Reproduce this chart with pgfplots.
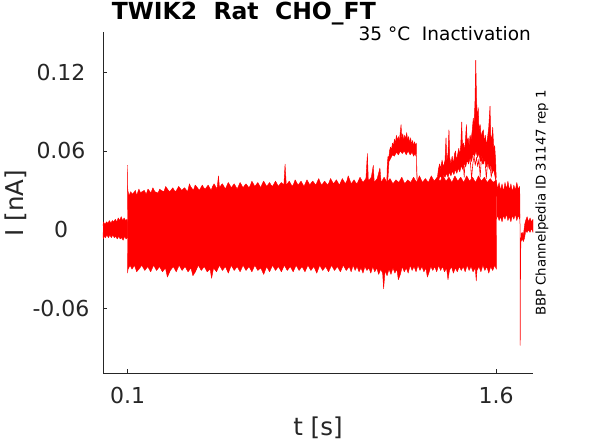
\documentclass[border=0pt]{standalone}
\usepackage{pgfplots}
\pgfplotsset{compat=1.18}
\usepackage{fontspec}
\setmainfont{DejaVu Sans}
\definecolor{txt}{rgb}{0.15,0.15,0.15}
\begin{document}
\begin{tikzpicture}[x=1pt,y=1pt]
\useasboundingbox (0,0) rectangle (589,442);
\begin{axis}[
  at={(103pt,69pt)}, anchor=south west,
  width=430pt, height=341pt, scale only axis,
  xmin=0, xmax=1.75, ymin=-0.109, ymax=0.1505,
  axis lines*=left,
  axis line style={txt, line width=0.6pt},
  xtick={0.1,1.6}, xticklabels={0.1,1.6},
  ytick={-0.06,0,0.06,0.12}, yticklabels={-0.06,0,0.06,0.12},
  tick align=inside, major tick length=4pt,
  tick style={txt, line width=0.6pt},
  ticklabel style={font=\fontsize{22}{26}\selectfont, text=txt},
  xticklabel style={anchor=base, yshift=-30pt},
  yticklabel style={anchor=center, xshift=-42pt},
  clip=false,
]
% pre-pulse band
\addplot[draw=red, fill=red, line width=0.4pt, line join=round] coordinates {
(0.000,0.003) (0.002,0.006) (0.008,0.004) (0.014,0.006) (0.020,0.005) (0.026,0.007)
(0.032,0.005) (0.038,0.007) (0.044,0.006) (0.050,0.008) (0.056,0.006) (0.062,0.009)
(0.068,0.007) (0.074,0.010) (0.080,0.007) (0.086,0.009) (0.092,0.007) (0.098,0.008) (0.100,0.006)
(0.100,-0.006) (0.094,-0.007) (0.088,-0.005) (0.082,-0.008) (0.076,-0.006) (0.070,-0.007)
(0.064,-0.005) (0.058,-0.007) (0.052,-0.005) (0.046,-0.006) (0.040,-0.004) (0.034,-0.006)
(0.028,-0.004) (0.022,-0.006) (0.016,-0.004) (0.010,-0.006) (0.004,-0.005) (0.001,-0.007) (0.000,-0.002)
};
% main band
\addplot[draw=red, fill=red, line width=0.4pt, line join=round] coordinates {
(0.100,-0.033) (0.0995,0.049) (0.101,0.030)
(0.106,0.026) (0.113,0.029) (0.119,0.027) (0.124,0.028) (0.132,0.030) (0.137,0.026) (0.146,0.031)
(0.153,0.028) (0.159,0.029) (0.168,0.030) (0.176,0.027) (0.183,0.031) (0.195,0.028) (0.203,0.032)
(0.211,0.029) (0.224,0.028) (0.231,0.031) (0.236,0.030) (0.248,0.029) (0.255,0.033) (0.266,0.030) (0.272,0.029) (0.284,0.032)
(0.290,0.030) (0.296,0.029) (0.308,0.033) (0.316,0.031) (0.320,0.030) (0.332,0.032) (0.344,0.029) (0.352,0.035) (0.356,0.033)
(0.368,0.030) (0.375,0.034) (0.380,0.033) (0.392,0.030) (0.404,0.034) (0.410,0.032) (0.416,0.031) (0.428,0.034)
(0.440,0.030) (0.446,0.033) (0.452,0.035) (0.464,0.031) (0.470,0.041) (0.474,0.032) (0.481,0.034) (0.486,0.035)
(0.498,0.031) (0.505,0.034) (0.510,0.036) (0.522,0.032) (0.534,0.035) (0.540,0.033) (0.546,0.031) (0.558,0.036)
(0.570,0.032) (0.577,0.034) (0.582,0.035) (0.594,0.032) (0.600,0.034) (0.606,0.037) (0.618,0.033) (0.630,0.036)
(0.642,0.032) (0.648,0.035) (0.654,0.037) (0.666,0.033) (0.678,0.036) (0.684,0.034) (0.690,0.033) (0.702,0.037)
(0.714,0.033) (0.721,0.035) (0.726,0.036) (0.736,0.034) (0.741,0.050) (0.746,0.034) (0.758,0.037)
(0.770,0.033) (0.776,0.035) (0.782,0.038) (0.794,0.034) (0.806,0.037) (0.812,0.035) (0.818,0.033) (0.830,0.038)
(0.842,0.034) (0.848,0.036) (0.854,0.037) (0.866,0.034) (0.878,0.039) (0.884,0.036) (0.890,0.034) (0.902,0.037)
(0.914,0.034) (0.920,0.036) (0.926,0.039) (0.938,0.035) (0.950,0.038) (0.956,0.036) (0.962,0.034) (0.974,0.039)
(0.986,0.035) (0.992,0.037) (0.998,0.041) (1.010,0.035) (1.022,0.038) (1.028,0.036) (1.034,0.035) (1.046,0.040)
(1.058,0.036) (1.070,0.039) (1.076,0.058) (1.080,0.037) (1.092,0.040) (1.100,0.049)
(1.104,0.036) (1.116,0.039) (1.127,0.047) (1.132,0.036) (1.144,0.040) (1.156,0.036)
(1.168,0.039) (1.180,0.035) (1.192,0.038) (1.204,0.036) (1.216,0.040) (1.228,0.035)
(1.240,0.038) (1.252,0.036) (1.264,0.040) (1.276,0.036) (1.288,0.041) (1.300,0.036)
(1.312,0.039) (1.324,0.036) (1.336,0.041) (1.348,0.037) (1.360,0.040) (1.372,0.037)
(1.384,0.041) (1.396,0.037) (1.408,0.040) (1.420,0.036) (1.432,0.041) (1.444,0.037)
(1.456,0.040) (1.468,0.036) (1.480,0.041) (1.492,0.037) (1.504,0.040) (1.516,0.036)
(1.528,0.041) (1.540,0.037) (1.552,0.040) (1.564,0.036) (1.576,0.039) (1.588,0.036)
(1.600,0.038)
(1.601,-0.030) (1.594,-0.027) (1.586,-0.031) (1.578,-0.028) (1.570,-0.033) (1.562,-0.028)
(1.554,-0.031) (1.546,-0.027) (1.538,-0.032) (1.530,-0.028) (1.522,-0.031) (1.519,-0.039)
(1.515,-0.029) (1.506,-0.032) (1.498,-0.028) (1.490,-0.031) (1.482,-0.027) (1.474,-0.032)
(1.466,-0.028) (1.458,-0.031) (1.450,-0.028) (1.442,-0.032) (1.434,-0.029) (1.426,-0.033)
(1.418,-0.028) (1.410,-0.031) (1.404,-0.038) (1.398,-0.029) (1.390,-0.032) (1.382,-0.028)
(1.374,-0.031) (1.366,-0.027) (1.358,-0.032) (1.350,-0.028) (1.342,-0.031) (1.334,-0.028)
(1.326,-0.033) (1.320,-0.036) (1.314,-0.029) (1.306,-0.032) (1.298,-0.028) (1.290,-0.031)
(1.282,-0.027) (1.274,-0.032) (1.266,-0.028) (1.258,-0.031) (1.250,-0.027) (1.242,-0.033)
(1.234,-0.029) (1.226,-0.032) (1.218,-0.028) (1.210,-0.034) (1.202,-0.038) (1.196,-0.030)
(1.188,-0.033) (1.180,-0.029) (1.172,-0.034) (1.164,-0.030) (1.156,-0.035) (1.148,-0.031)
(1.142,-0.045) (1.138,-0.033) (1.130,-0.030) (1.122,-0.034) (1.114,-0.029) (1.106,-0.032)
(1.098,-0.028) (1.090,-0.033) (1.082,-0.029) (1.074,-0.031) (1.066,-0.028) (1.058,-0.033)
(1.050,-0.029) (1.042,-0.032) (1.034,-0.028) (1.026,-0.031) (1.018,-0.027) (1.010,-0.032)
(1.002,-0.028) (0.990,-0.031) (0.978,-0.027) (0.966,-0.032) (0.954,-0.028) (0.942,-0.031)
(0.930,-0.027) (0.918,-0.032) (0.906,-0.028) (0.894,-0.031) (0.882,-0.027) (0.870,-0.033)
(0.858,-0.028) (0.846,-0.031) (0.834,-0.027) (0.822,-0.032) (0.810,-0.028) (0.798,-0.031)
(0.786,-0.027) (0.774,-0.032) (0.762,-0.028) (0.750,-0.031) (0.738,-0.027) (0.726,-0.032)
(0.714,-0.028) (0.702,-0.031) (0.690,-0.027) (0.678,-0.032) (0.666,-0.028) (0.654,-0.034)
(0.642,-0.029) (0.630,-0.031) (0.618,-0.027) (0.606,-0.032) (0.594,-0.028) (0.582,-0.031)
(0.570,-0.027) (0.558,-0.032) (0.546,-0.028) (0.534,-0.031) (0.522,-0.027) (0.510,-0.033)
(0.498,-0.028) (0.486,-0.031) (0.474,-0.027) (0.462,-0.032) (0.450,-0.029) (0.442,-0.037)
(0.436,-0.030) (0.424,-0.032) (0.412,-0.028) (0.400,-0.031) (0.388,-0.027) (0.376,-0.032)
(0.366,-0.035) (0.358,-0.029) (0.346,-0.032) (0.334,-0.028) (0.322,-0.031) (0.310,-0.027)
(0.298,-0.032) (0.286,-0.028) (0.274,-0.031) (0.262,-0.036) (0.254,-0.029) (0.242,-0.032)
(0.230,-0.028) (0.218,-0.031) (0.206,-0.027) (0.194,-0.032) (0.182,-0.028) (0.170,-0.031)
(0.158,-0.027) (0.146,-0.030) (0.137,-0.032) (0.128,-0.027) (0.118,-0.030) (0.110,-0.027)
(0.102,-0.030) (0.100,-0.033)
};
% hump
\addplot[draw=red, fill=red, line width=0.4pt, line join=round] coordinates {
(1.155,0.036) (1.157,0.050) (1.160,0.056) (1.163,0.054) (1.166,0.060) (1.170,0.063)
(1.174,0.061) (1.178,0.066) (1.182,0.064) (1.186,0.069) (1.190,0.066) (1.194,0.072)
(1.198,0.068) (1.202,0.071) (1.206,0.067) (1.210,0.075) (1.213,0.080) (1.216,0.070)
(1.220,0.073) (1.224,0.068) (1.228,0.072) (1.232,0.069) (1.236,0.074) (1.240,0.068)
(1.244,0.071) (1.248,0.066) (1.252,0.070) (1.256,0.065) (1.260,0.068) (1.264,0.064)
(1.268,0.067) (1.272,0.064) (1.275,0.066) (1.277,0.040) (1.279,0.036)
(1.276,0.055) (1.270,0.058) (1.264,0.056) (1.258,0.059) (1.250,0.057) (1.242,0.060)
(1.234,0.057) (1.226,0.060) (1.218,0.058) (1.210,0.060) (1.202,0.057) (1.194,0.059)
(1.186,0.056) (1.178,0.057) (1.170,0.054) (1.164,0.052) (1.160,0.040) (1.158,0.036)
};
% spike cluster
\addplot[draw=red, fill=red, line width=0.5pt, line join=round] coordinates {
(1.360,0.038) (1.365,0.046) (1.370,0.050) (1.374,0.044) (1.380,0.052) (1.386,0.047)
(1.392,0.053) (1.396,0.070) (1.399,0.052) (1.404,0.058) (1.408,0.076) (1.411,0.055)
(1.416,0.050) (1.421,0.056) (1.426,0.050) (1.431,0.058) (1.435,0.060) (1.438,0.052)
(1.443,0.057) (1.448,0.062) (1.452,0.056) (1.456,0.064) (1.460,0.082) (1.463,0.062)
(1.467,0.066) (1.471,0.060) (1.475,0.068) (1.479,0.080) (1.482,0.066) (1.486,0.070)
(1.490,0.064) (1.494,0.072) (1.498,0.068) (1.503,0.076) (1.507,0.085) (1.510,0.078)
(1.514,0.098) (1.517,0.129) (1.520,0.100) (1.524,0.082) (1.527,0.093) (1.530,0.076)
(1.535,0.080) (1.539,0.070) (1.543,0.074) (1.548,0.076) (1.552,0.066) (1.556,0.072)
(1.560,0.064) (1.565,0.070) (1.570,0.078) (1.575,0.094) (1.578,0.072) (1.582,0.068)
(1.586,0.078) (1.590,0.062) (1.594,0.064) (1.598,0.052) (1.600,0.040)
(1.598,0.038) (1.590,0.046) (1.584,0.043) (1.578,0.050) (1.572,0.046) (1.566,0.052)
(1.560,0.048) (1.554,0.054) (1.548,0.050) (1.542,0.056) (1.536,0.052) (1.530,0.058)
(1.524,0.055) (1.518,0.060) (1.512,0.056) (1.506,0.058) (1.500,0.052) (1.494,0.055)
(1.488,0.050) (1.482,0.053) (1.476,0.048) (1.470,0.051) (1.464,0.046) (1.458,0.049)
(1.452,0.044) (1.446,0.047) (1.440,0.043) (1.434,0.046) (1.428,0.042) (1.422,0.045)
(1.416,0.041) (1.410,0.044) (1.404,0.040) (1.398,0.043) (1.392,0.040) (1.386,0.042)
(1.380,0.039) (1.372,0.041) (1.366,0.038)
};
\addplot[red, line width=0.6pt, line join=round] coordinates {
(1.365,0.040) (1.370,0.050) (1.375,0.046) (1.380,0.053) (1.385,0.047) (1.390,0.051)
(1.395,0.045) (1.400,0.049) (1.405,0.043) (1.410,0.048) (1.415,0.042) (1.420,0.047)
(1.425,0.045) (1.430,0.052) (1.435,0.048) (1.440,0.055) (1.445,0.050) (1.450,0.058)
(1.455,0.052) (1.460,0.060) (1.465,0.054) (1.470,0.040) (1.475,0.057) (1.480,0.060)
(1.485,0.055) (1.490,0.059) (1.495,0.052) (1.500,0.039) (1.505,0.050) (1.510,0.056)
(1.515,0.049) (1.520,0.055) (1.525,0.048) (1.530,0.054) (1.535,0.040) (1.540,0.055)
(1.545,0.050) (1.550,0.058) (1.555,0.052) (1.560,0.039) (1.565,0.051) (1.570,0.057)
(1.575,0.049) (1.580,0.040) (1.585,0.046) (1.590,0.050) (1.595,0.043) (1.600,0.040)
};
% post-step band
\addplot[draw=red, fill=red, line width=0.4pt, line join=round] coordinates {
(1.600,0.038) (1.606,0.031) (1.612,0.036) (1.618,0.030) (1.624,0.035) (1.630,0.029)
(1.636,0.036) (1.642,0.031) (1.648,0.037) (1.654,0.030) (1.660,0.035) (1.666,0.029)
(1.672,0.034) (1.678,0.030) (1.684,0.036) (1.690,0.031) (1.696,0.033) (1.697,0.012)
(1.696,0.008) (1.690,0.011) (1.684,0.007) (1.678,0.012) (1.672,0.008) (1.666,0.011)
(1.660,0.006) (1.654,0.010) (1.648,0.007) (1.642,0.012) (1.636,0.008) (1.630,0.011)
(1.624,0.006) (1.618,0.010) (1.612,0.007) (1.606,0.011) (1.601,0.008)
};
% negative transient
\addplot[red, line width=0.5pt, line join=round] coordinates {
(1.697,0.012) (1.698,-0.088) (1.6995,-0.020) (1.701,-0.006)
};
\addplot[draw=red, fill=red, line width=0.4pt, line join=round] coordinates {
(1.701,-0.003) (1.706,-0.002) (1.711,-0.004) (1.716,0.004) (1.720,0.007) (1.726,0.010)
(1.732,0.006) (1.738,0.009) (1.744,0.006) (1.750,0.008)
(1.750,-0.002) (1.744,0.001) (1.738,-0.002) (1.732,0.000) (1.726,-0.002) (1.720,-0.001)
(1.716,-0.006) (1.711,-0.009) (1.706,-0.007) (1.701,-0.009)
};
\end{axis}
\node[anchor=base west, text=black, inner sep=0pt] at (111.7,422) {\fontsize{23.5}{28}\selectfont\bfseries TWIK2\ \ Rat\ \ CHO\_FT};
\node[anchor=base east, text=black, inner sep=0pt] at (531,401) {\fontsize{18.5}{22}\selectfont 35 °C\ \ Inactivation};
\node[anchor=base, text=txt, inner sep=0pt] at (318,7) {\fontsize{24.5}{29}\selectfont t [s]};
\node[rotate=90, anchor=center, text=txt, inner sep=0pt] at (16,239) {\fontsize{24.5}{29}\selectfont I [nA]};
\node[rotate=90, anchor=center, text=black, inner sep=0pt] at (542,239) {\fontsize{13.3}{16}\selectfont BBP Channelpedia ID 31147 rep 1};
\end{tikzpicture}
\end{document}
